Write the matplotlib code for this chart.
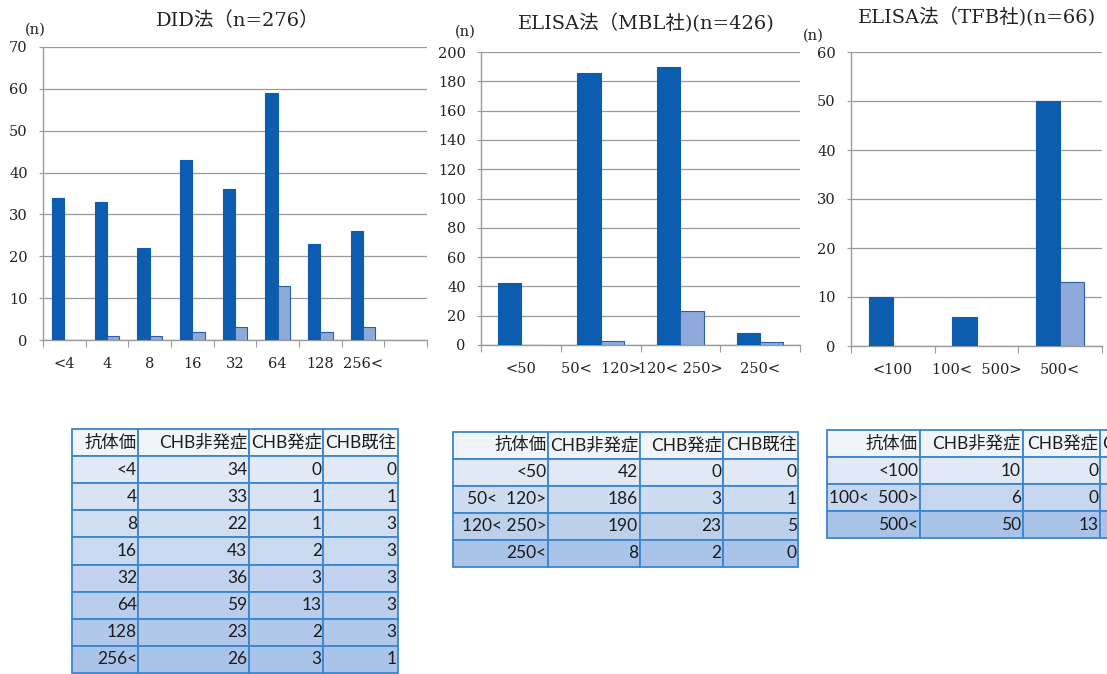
import numpy as np
import matplotlib
matplotlib.use('Agg')
import matplotlib.pyplot as plt

W, H = 1107, 674

# antibody titre distributions, three assays
did_labels = ['<4', '4', '8', '16', '32', '64', '128', '256<']
did_non = [34, 33, 22, 43, 36, 59, 23, 26]
did_onset = [0, 1, 1, 2, 3, 13, 2, 3]
did_past = [0, 1, 3, 3, 3, 3, 3, 1]

mbl_labels = ['<50', '50<  120>', '120< 250>', '250<']
mbl_non = [42, 186, 190, 8]
mbl_onset = [0, 3, 23, 2]
mbl_past = [0, 1, 5, 0]

tfb_labels = ['<100', '100<  500>', '500<']
tfb_non = [10, 6, 50]
tfb_onset = [0, 0, 13]

titles = ['DID法（n=276）', 'ELISA法（MBL社)(n=426)', 'ELISA法（TFB社)(n=66)']
header = ['抗体価', 'CHB非発症', 'CHB発症', 'CHB既往']

SERIF = ['DejaVu Serif', 'Noto Sans CJK JP']
SANS = ['Lato', 'Noto Sans CJK JP']
DARK = '#0c5caf'
LIGHT = '#8eaadb'
GRID = '#9a9a9a'


def px_axes(fig, x0, x1, y0, y1):
    # pixel box (top-left origin) -> figure axes
    return fig.add_axes([x0 / W, 1 - y1 / H, (x1 - x0) / W, (y1 - y0) / H])


def bar_chart(ax, labels, non, onset, ymax, ystep, nslots):
    x = np.arange(len(labels))
    w = 0.29
    ax.bar(x - w / 2, non, w, color=DARK, edgecolor=DARK, linewidth=0.8, zorder=3)
    ax.bar(x + w / 2, onset, w, color=LIGHT, edgecolor='#2a5ea8', linewidth=0.8, zorder=3)
    ax.set_xlim(-0.5, nslots - 0.5)
    ax.set_ylim(0, ymax)
    ax.set_yticks(np.arange(0, ymax + 1, ystep))
    ax.yaxis.grid(True, color=GRID, linewidth=0.9)
    ax.set_axisbelow(True)
    ax.set_xticks(np.arange(-0.5, nslots, 1.0))
    ax.set_xticklabels([])
    ax.set_xticks(x, minor=True)
    ax.set_xticklabels(labels, minor=True)
    ax.tick_params(axis='x', which='major', length=5, color=GRID, direction='out')
    ax.tick_params(axis='x', which='minor', length=0, pad=12)
    ax.tick_params(axis='y', length=3, color=GRID, pad=8)
    for lab in ax.get_xticklabels(minor=True) + ax.get_yticklabels():
        lab.set_family(SERIF)
        lab.set_fontsize(10.5)
        lab.set_color('#222222')
    for s in ['top', 'right']:
        ax.spines[s].set_visible(False)
    for s in ['left', 'bottom']:
        ax.spines[s].set_color(GRID)
        ax.spines[s].set_linewidth(1.0)


def draw_table(ax, rows, col_w):
    ax.axis('off')
    tb = ax.table(cellText=rows, colLabels=header, colWidths=col_w,
                  cellLoc='right', colLoc='right', bbox=[0, 0, 1, 1])
    tb.auto_set_font_size(False)
    nrow = len(rows)
    shades = [matplotlib.colors.to_hex(c) for c in
              np.linspace(matplotlib.colors.to_rgb('#e0e9f5'),
                          matplotlib.colors.to_rgb('#aac3e8'), nrow)]
    for (r, c), cell in tb.get_celld().items():
        cell.PAD = 0.02
        cell.set_edgecolor('#3a86cf')
        cell.set_linewidth(1.3)
        cell.set_facecolor('#f1f4f9' if r == 0 else shades[r - 1])
        t = cell.get_text()
        t.set_family(SANS)
        t.set_fontsize(12.5)
        t.set_color('#1c1c1c')
    return tb


fig = plt.figure(figsize=(W / 100, H / 100), dpi=100)
fig.patch.set_facecolor('white')

ax1 = px_axes(fig, 43, 427, 47, 340)
bar_chart(ax1, did_labels, did_non, did_onset, 70, 10, 9)
ax2 = px_axes(fig, 481, 800, 52, 345)
bar_chart(ax2, mbl_labels, mbl_non, mbl_onset, 200, 20, 4)
ax3 = px_axes(fig, 851, 1102, 52, 346)
bar_chart(ax3, tfb_labels, tfb_non, tfb_onset, 60, 10, 3)

for (tx, ty), t in zip([(238, 21), (646, 23), (977, 17)], titles):
    fig.text(tx / W, 1 - ty / H, t, family=SERIF, fontsize=14,
             ha='center', va='center', color='#222222')
for tx, ty in [(35, 30), (465, 32), (813, 36)]:
    fig.text(tx / W, 1 - ty / H, '(n)', family=SERIF, fontsize=10.5,
             ha='center', va='center', color='#222222')

t1 = [[a, str(b), str(c), str(d)] for a, b, c, d in zip(did_labels, did_non, did_onset, did_past)]
t2 = [[a, str(b), str(c), str(d)] for a, b, c, d in zip(mbl_labels, mbl_non, mbl_onset, mbl_past)]
t3 = [[a, str(b), str(c), ''] for a, b, c in zip(tfb_labels, tfb_non, tfb_onset)]

draw_table(px_axes(fig, 71.7, 398, 429, 673), t1, [66.6, 111, 74, 74.7])
draw_table(px_axes(fig, 453.3, 798.3, 431.7, 566.7), t2, [95, 91.7, 83.3, 75])
draw_table(px_axes(fig, 826.7, 1175, 430, 538.3), t3, [93.3, 102.7, 77.3, 75])

plt.savefig('out.png', dpi=100)
